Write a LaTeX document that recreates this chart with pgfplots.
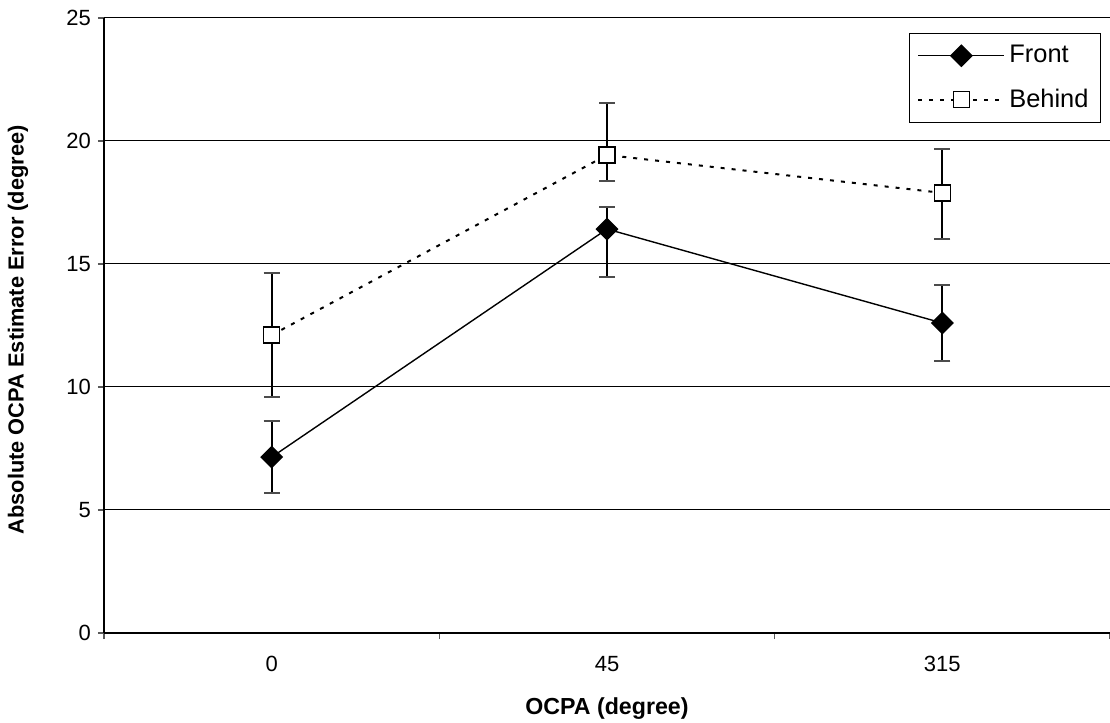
\documentclass[border=0pt]{standalone}
\usepackage{pgfplots}
\pgfplotsset{compat=1.18}
\usepackage{fontspec}
\setmainfont{Liberation Sans}

\begin{document}
\begin{tikzpicture}
\begin{axis}[
  scale only axis,
  width=503pt, height=307.5pt,
  xmin=-0.5, xmax=2.5,
  ymin=0, ymax=25,
  axis x line*=bottom,
  axis y line*=left,
  axis line style={line width=1pt},
  ytick={0,5,...,25},
  ymajorgrids,
  grid style={black, line width=0.5pt},
  xtick={0,1,2},
  xticklabels={0,45,315},
  major x tick style={draw=none},
  minor xtick={-0.5,0.5,1.5,2.5},
  tick align=outside,
  major tick length=3pt,
  minor tick length=3pt,
  tick style={line width=0.6pt, gray!70!black},
  /pgf/number format/assume math mode=true,
  ticklabel style={font=\fontsize{11}{13}\selectfont},
  xticklabel style={yshift=-5pt},
  xlabel={OCPA (degree)},
  ylabel={Absolute OCPA Estimate Error (degree)},
  xlabel style={font=\fontsize{11.6}{14}\selectfont\bfseries,
    at={(axis description cs:0.5,-0.123)}, anchor=center},
  ylabel style={font=\fontsize{10.9}{13}\selectfont\bfseries,
    at={(axis description cs:-0.0855,0.493)}, anchor=center},
  legend style={at={(1,1)}, anchor=north east, xshift=-4.5pt, yshift=-7.5pt,
    draw=black, line width=0.5pt, font=\fontsize{12.7}{15}\selectfont,
    row sep=7.5pt, inner xsep=4pt, inner ysep=4pt},
  legend cell align=left,
  legend image code/.code={%
    \draw[#1, mark repeat=2, mark phase=2]
      plot coordinates {(0pt,0pt) (21.5pt,0pt) (43pt,0pt)};},
  error bars/y dir=both,
  error bars/y explicit,
  error bars/error bar style={solid, line width=1pt, black},
  error bars/error mark options={solid, rotate=90, line width=1pt, mark size=4pt, gray!60!black},
  clip=false,
]
% Front: solid line, filled diamonds
\addplot[black, line width=0.7pt, mark=square*,
  mark options={rotate=45, solid, fill=black, mark size=3.7pt}]
  coordinates {
    (0,7.15)  += (0,1.47) -= (0,1.46)
    (1,16.42) += (0,0.90) -= (0,1.95)
    (2,12.60) += (0,1.55) -= (0,1.54)
  };
\addlegendentry{Front}
% Behind: dotted line, open squares
\addplot[black, line width=1pt, dash pattern=on 2pt off 3.5pt, mark=square*,
  mark options={solid, fill=white, line width=0.7pt, mark size=4pt}]
  coordinates {
    (0,12.11) += (0,2.52) -= (0,2.52)
    (1,19.43) += (0,2.11) -= (0,1.06)
    (2,17.89) += (0,1.78) -= (0,1.87)
  };
\addlegendentry{Behind}
\end{axis}
\pgfresetboundingbox
\path[use as bounding box] (-52pt,-45pt) rectangle (503pt,316.5pt);
\end{tikzpicture}
\end{document}
